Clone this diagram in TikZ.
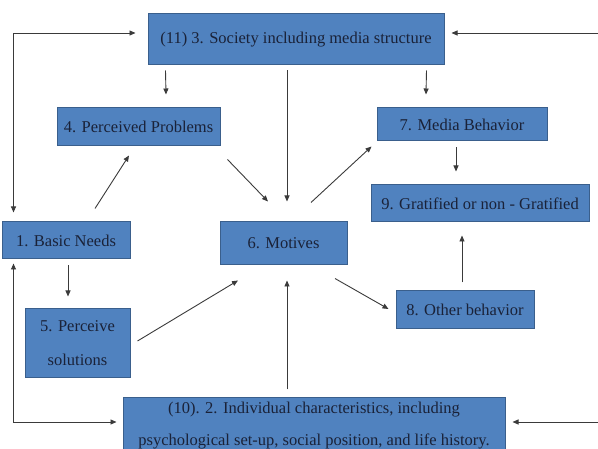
\documentclass[tikz,border=0pt]{standalone}
\usepackage{fontspec}
\setmainfont{Liberation Serif}
\usetikzlibrary{
	arrows.meta,
	calc,
	positioning,
	}
\definecolor{boxblue}{HTML}{5082BF}
\definecolor{boxline}{HTML}{3A5F8C}
\definecolor{boxtext}{HTML}{1A2238}
\definecolor{arrgray}{HTML}{3A3A3A}

\begin{document}
\begin{tikzpicture}[x=1pt, y=-1pt,
	box/.style={draw=boxline, line width=1pt, fill=boxblue, text=boxtext, inner sep=0pt, align=center, font=\rmfamily\fontsize{16.5}{34}\selectfont},
	arr/.style={draw=arrgray, line width=0.9pt, -{Triangle[length=6pt,width=5pt]}},
	twoway/.style={arr, {Triangle[length=6pt,width=5pt]}-{Triangle[length=6pt,width=5pt]}},
	]
			\useasboundingbox (0,0) rectangle (598,449);
			\clip (0,0) rectangle (598,449);
			\node[box, minimum width=296pt, minimum height=51pt] (3) at (296,39.5) {(11) 3. Society including media structure};
			\node[box, minimum width=163pt, minimum height=38pt] (4) at (138.5,127) {4. Perceived Problems};
			\node[box, minimum width=170pt, minimum height=33pt] (7) at (462,124.5) {7. Media Behavior};
			\node[box, minimum width=218pt, minimum height=37pt] (9) at (480,203.5) {9. Gratified or non - Gratified};
			\node[box, minimum width=128pt, minimum height=37pt] (1) at (66,240.5) {1. Basic Needs};
			\node[box, minimum width=127pt, minimum height=43pt] (6) at (283.5,243.5) {6. Motives};
			\node[box, minimum width=105pt, minimum height=69pt] (5) at (77.5,343.5) {5. Perceive\\solutions};
			\node[box, minimum width=138pt, minimum height=38pt] (8) at (465,310) {8. Other behavior};
			\node[box, minimum width=382pt, minimum height=56pt, font=\rmfamily\fontsize{16.5}{32}\selectfont] (2) at (314,426) {(10). 2. Individual characteristics, including\\psychological set-up, social position, and life history.};
			\coordinate (rt) at (598,33);
			\coordinate (rb) at (598,422);
			% feedback loops
			\draw[twoway] ($(3.west)+(-12,-6.5)$) -| ($(1.north west)+(12,-9)$);
			\draw[twoway] ($(2.west)+(-6,-4)$) -| ($(1.south west)+(12,4)$);
			\draw[arr] (rt) -- ($(3.east)+(7,-6.5)$);
			\draw[arr] (rb) -- ($(2.east)+(7,-4)$);
			% main arrows
			\draw[arr] ($(3.south west)+(18,5)$) -- ($(4.north)+(27.5,-13)$);
			\draw[arr] ($(3.south)+(-9,5)$) -- ($(6.north)+(3.5,-20)$);
			\draw[arr] ($(3.south east)+(-18,5)$) -- ($(7.north)+(-36,-13)$);
			\draw[arr] ($(1.north)+(29,-13)$) -- ($(4.south)+(-9.5,9)$);
			\draw[arr] ($(4.south east)+(7,13)$) -- ($(6.north)+(-15.5,-20)$);
			\draw[arr] ($(6.north)+(27.5,-19)$) -- ($(7.south west)+(-5,5)$);
			\draw[arr] ($(7.south)+(-6,6)$) -- ($(9.north)+(-24,-13)$);
			\draw[arr] ($(1.south)+(2,6)$) -- ($(5.north)+(-9.5,-12)$);
			\draw[arr] ($(5.east)+(7,-2.5)$) -- ($(6.south)+(-45.5,15)$);
			\draw[arr] ($(2.north)+(-27,-8)$) -- ($(6.south)+(3.5,15)$);
			\draw[arr] ($(6.south)+(51.5,13)$) -- ($(8.west)+(-7,-1)$);
			\draw[arr] ($(8.north)+(-3,-8)$) -- ($(9.south)+(-18,13)$);
\end{tikzpicture}
\end{document}
